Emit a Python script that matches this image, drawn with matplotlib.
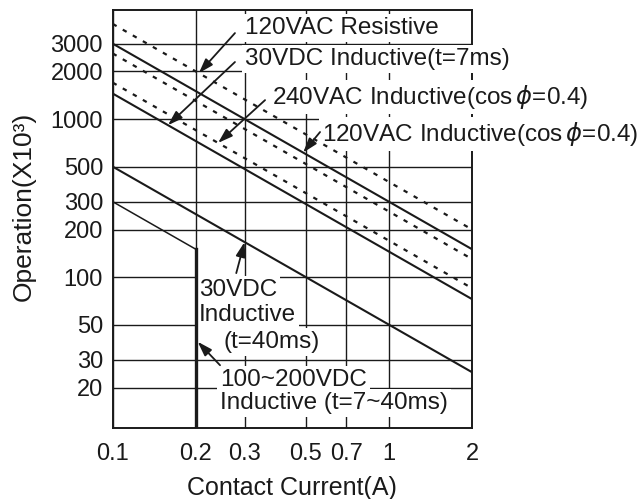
import matplotlib
matplotlib.use('Agg')
import matplotlib.pyplot as plt
from matplotlib.ticker import FixedLocator, FixedFormatter, NullLocator

plt.rcParams['font.family'] = ['Liberation Sans', 'DejaVu Sans']

# contact current (A) at both ends of each life line
current = [0.1, 2.0]
life_120vac_res = [4000, 200]
life_120vac_ind = [3000, 150]
life_dotted_mid = [2600, 130]
life_240vac_ind = [1700, 85]
life_30vdc_7ms = [1450, 72.5]
life_30vdc_40ms = [500, 25]
# 100~200VDC: slope up to 0.2A, then vertical drop
hvdc_current = [0.1, 0.2]
hvdc_life = [300, 150]

x_ticks = [0.1, 0.2, 0.3, 0.5, 0.7, 1, 2]
x_labels = ['0.1', '0.2', '0.3', '0.5', '0.7', '1', '2']
y_ticks = [20, 30, 50, 100, 200, 300, 500, 1000, 2000, 3000]
y_labels = ['20', '30', '50', '100', '200', '300', '500', '1000', '2000', '3000']

ink = '#1a1a1a'
y_lo, y_hi = 11.1, 4900

fig = plt.figure(figsize=(6.38, 4.99), dpi=100)
ax = fig.add_axes([0.1767, 0.1423, 0.5633, 0.8377])
ax.set_xscale('log')
ax.set_yscale('log')
ax.set_xlim(0.1, 2)
ax.set_ylim(y_lo, y_hi)

ax.xaxis.set_major_locator(FixedLocator(x_ticks))
ax.xaxis.set_major_formatter(FixedFormatter(x_labels))
ax.xaxis.set_minor_locator(NullLocator())
ax.yaxis.set_major_locator(FixedLocator(y_ticks))
ax.yaxis.set_major_formatter(FixedFormatter(y_labels))
ax.yaxis.set_minor_locator(NullLocator())
ax.tick_params(length=0, labelsize=17, colors=ink)
ax.tick_params(axis='x', pad=11)
ax.tick_params(axis='y', pad=7)
ax.grid(True, color=ink, lw=1.0)
ax.set_axisbelow(True)
for s in ax.spines.values():
    s.set_color(ink)
    s.set_linewidth(1.4)

dots = (0, (2, 3.2))
ax.plot(current, life_120vac_res, color=ink, lw=1.6, ls=dots, zorder=4)
ax.plot(current, life_120vac_ind, color=ink, lw=1.5, zorder=4)
ax.plot(current, life_dotted_mid, color=ink, lw=1.6, ls=dots, zorder=4)
ax.plot(current, life_240vac_ind, color=ink, lw=1.6, ls=dots, zorder=4)
ax.plot(current, life_30vdc_7ms, color=ink, lw=1.5, zorder=4)
ax.plot(current, life_30vdc_40ms, color=ink, lw=1.5, zorder=4)
ax.plot(hvdc_current, hvdc_life, color=ink, lw=1.1, zorder=4)
ax.plot([hvdc_current[1], hvdc_current[1]], [hvdc_life[1], y_lo], color=ink, lw=2.4, zorder=4)

box = dict(boxstyle='square,pad=0.12', fc='white', ec='none')
fs = 17.5
labels = [
    ('120VAC Resistive', 0.301, 3770),
    ('30VDC Inductive(t=7ms)', 0.301, 2400),
    (r'240VAC Inductive(cos$\,\phi$=0.4)', 0.3775, 1378),
    (r'120VAC Inductive(cos$\,\phi$=0.4)', 0.573, 804),
    ('30VDC', 0.2054, 82.8),
    ('Inductive', 0.2054, 57.5),
    ('(t=40ms)', 0.2508, 38.8),
    ('100~200VDC', 0.2446, 22.3),
    ('Inductive (t=7~40ms)', 0.2446, 15.9),
]
for txt, xv, yv in labels:
    ax.text(xv, yv, txt, fontsize=fs, color=ink, ha='left', va='center',
            bbox=box, zorder=3, clip_on=False)

arrow = dict(arrowstyle='-|>,head_length=0.55,head_width=0.18', color=ink, lw=1.3,
             mutation_scale=16, shrinkA=0, shrinkB=0)
arrows = [
    ((0.205, 4000 * 0.1 / 0.205), (0.277, 3500)),
    ((0.1585, 1450 * 0.1 / 0.1585), (0.277, 2296)),
    ((0.2406, 1700 * 0.1 / 0.2406), (0.356, 1318)),
    ((0.489, 3000 * 0.1 / 0.489), (0.563, 828)),
    ((0.3, 500 * 0.1 / 0.3), (0.28, 106)),
    ((0.203, 39), (0.2446, 27.7)),
]
for tip, tail in arrows:
    ax.annotate('', xy=tip, xytext=tail, arrowprops=arrow, zorder=5)

ax.set_xlabel('Contact Current(A)', fontsize=18, color=ink, labelpad=8)
ax.set_ylabel('Operation(X10³)', fontsize=19, color=ink)
ax.yaxis.set_label_coords(-0.214, 0.529)

fig.savefig('out.png', dpi=100, facecolor='white')
